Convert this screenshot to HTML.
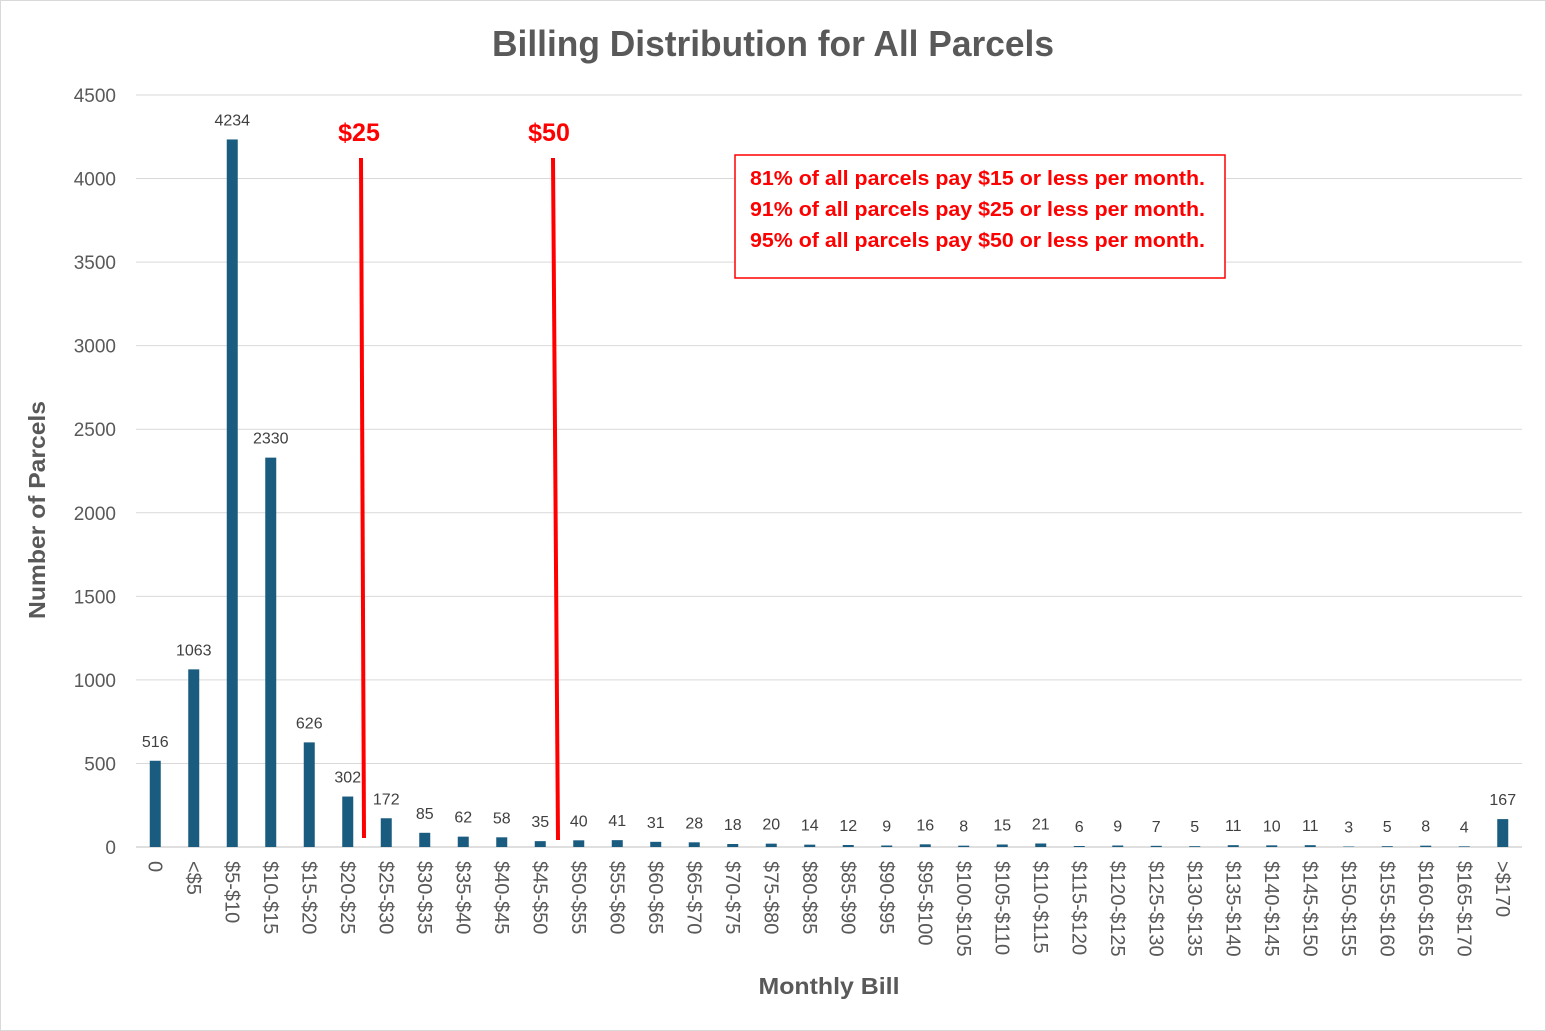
<!DOCTYPE html>
<html><head><meta charset="utf-8"><style>
html,body{margin:0;padding:0;background:#fff;}
svg{display:block;font-family:"Liberation Sans",sans-serif;}
</style></head><body>
<svg id="chart" width="1546" height="1031" viewBox="0 0 1546 1031" xmlns="http://www.w3.org/2000/svg">
<rect x="0.5" y="0.5" width="1545" height="1030" fill="#fff" stroke="#d9d9d9"/>
<text x="773" y="56" text-anchor="middle" font-size="36" font-weight="bold" fill="#595959" textLength="562" lengthAdjust="spacingAndGlyphs">Billing Distribution for All Parcels</text>
<g id="grid"></g><g id="bars"></g><g id="labels"></g><g id="xticks"></g>
<text transform="translate(45,510) rotate(-90)" text-anchor="middle" font-size="23" font-weight="bold" fill="#595959" textLength="218" lengthAdjust="spacingAndGlyphs">Number of Parcels</text>
<text x="829" y="994" text-anchor="middle" font-size="23" font-weight="bold" fill="#595959" textLength="141" lengthAdjust="spacingAndGlyphs">Monthly Bill</text>
<line x1="361" y1="158" x2="364" y2="838" stroke="#ff0000" stroke-width="4"/>
<line x1="553" y1="158" x2="558" y2="840" stroke="#ff0000" stroke-width="4"/>
<text x="359" y="141" text-anchor="middle" font-size="25" font-weight="bold" fill="#ff0000">$25</text>
<text x="549" y="141" text-anchor="middle" font-size="25" font-weight="bold" fill="#ff0000">$50</text>
<g>
<rect x="735" y="155" width="490" height="123" fill="#fff" stroke="#ff0000" stroke-width="1.5"/>
<text x="750" y="185" font-size="20" font-weight="bold" fill="#ff0000" textLength="455" lengthAdjust="spacingAndGlyphs">81% of all parcels pay $15 or less per month.</text>
<text x="750" y="216" font-size="20" font-weight="bold" fill="#ff0000" textLength="455" lengthAdjust="spacingAndGlyphs">91% of all parcels pay $25 or less per month.</text>
<text x="750" y="247" font-size="20" font-weight="bold" fill="#ff0000" textLength="455" lengthAdjust="spacingAndGlyphs">95% of all parcels pay $50 or less per month.</text>
</g>
</svg>
<script>
const categories=["0","<$5","$5-$10","$10-$15","$15-$20","$20-$25","$25-$30","$30-$35","$35-$40","$40-$45","$45-$50","$50-$55","$55-$60","$60-$65","$65-$70","$70-$75","$75-$80","$80-$85","$85-$90","$90-$95","$95-$100","$100-$105","$105-$110","$110-$115","$115-$120","$120-$125","$125-$130","$130-$135","$135-$140","$140-$145","$145-$150","$150-$155","$155-$160","$160-$165","$165-$170",">$170"];
const values=[516,1063,4234,2330,626,302,172,85,62,58,35,40,41,31,28,18,20,14,12,9,16,8,15,21,6,9,7,5,11,10,11,3,5,8,4,167];
const yTicks=[0,500,1000,1500,2000,2500,3000,3500,4000,4500];
const NS="http://www.w3.org/2000/svg";
const L=136,R=1522,T=95,B=847,yMax=4500;
const bw=(R-L)/categories.length;
const y=v=>B-(v/yMax)*(B-T);
const x=i=>L+bw*(i+0.5);
function mk(tag,attrs,parent,txt){const e=document.createElementNS(NS,tag);for(const k in attrs)e.setAttribute(k,attrs[k]);if(txt!==undefined)e.textContent=txt;document.getElementById(parent).appendChild(e);return e;}
yTicks.forEach(t=>{
  const g=mk("line",{x1:L,x2:R,y1:y(t),y2:y(t),stroke:t===0?"#bfbfbf":"#d9d9d9","stroke-width":1},"grid");
  
  
  const lb=mk("text",{x:116,y:y(t)+7,"text-anchor":"end","font-size":19,fill:"#595959"},"grid",String(t));
  
  
});
values.forEach((v,i)=>{
  const r=mk("rect",{x:x(i)-5.5,y:y(v),width:11,height:B-y(v),fill:"#1a5c7f"},"bars");
  
  
  const t=mk("text",{x:x(i),y:y(v)-14,"text-anchor":"middle","font-size":16,fill:"#404040"},"labels",String(v));
  
  
  const c=mk("text",{transform:`translate(${x(i)-7},861) rotate(90)`,"font-size":20,fill:"#595959"},"xticks",categories[i]);
  
  
});
</script>
</body></html>
